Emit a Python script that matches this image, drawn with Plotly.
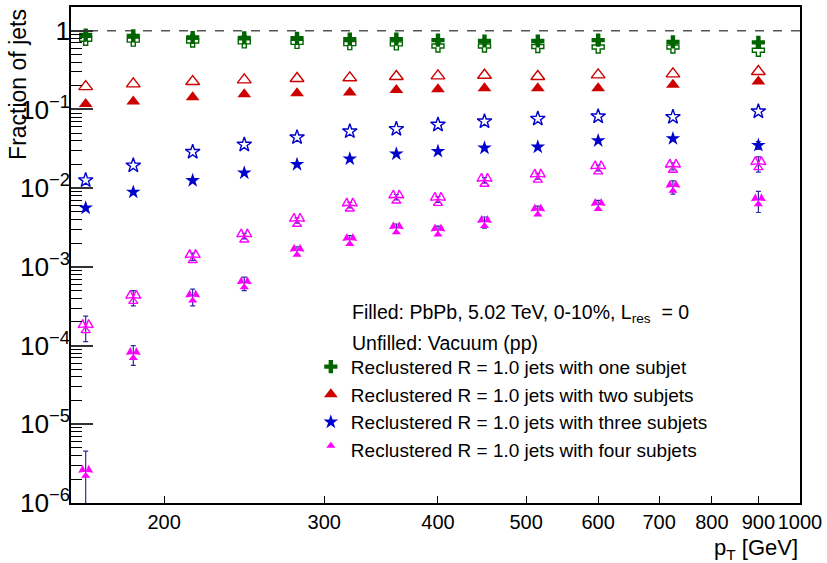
import plotly.graph_objects as go

# ---------------- data ----------------
pt = [164, 185, 215, 245, 280, 320, 360, 400, 450, 515, 600, 725, 900]

one_pbpb = [0.88, 0.86, 0.82, 0.81, 0.80, 0.78, 0.78, 0.76, 0.74, 0.74, 0.76, 0.72, 0.71]
one_pp = [0.78, 0.76, 0.74, 0.72, 0.71, 0.685, 0.68, 0.64, 0.64, 0.63, 0.62, 0.62, 0.565]

two_pbpb = [0.117, 0.126, 0.143, 0.156, 0.161, 0.164, 0.177, 0.181, 0.186, 0.186, 0.186, 0.205, 0.226]
two_pp = [0.195, 0.211, 0.226, 0.237, 0.247, 0.252, 0.262, 0.267, 0.272, 0.262, 0.275, 0.283, 0.303]

three_pbpb = [0.0056, 0.0089, 0.0125, 0.0156, 0.020, 0.0235, 0.0272, 0.0294, 0.0324, 0.0333, 0.0401, 0.0426, 0.035]
three_pp = [0.0126, 0.0194, 0.0289, 0.0357, 0.0442, 0.0527, 0.0564, 0.064, 0.0705, 0.076, 0.0815, 0.080, 0.0944]
three_pbpb_err = [None, None, None, None, None, None, None, None, None, None, None, None, 0.004]

four_pbpb = [2.5e-6, 7.8e-5, 4.2e-4, 6.2e-4, 1.6e-3, 2.2e-3, 3.1e-3, 2.9e-3, 3.7e-3, 5.2e-3, 6.1e-3, 1.04e-2, 7.0e-3]
four_pbpb_err = [2.05e-6, 2.2e-5, 1.0e-4, 1.2e-4, 2.0e-4, 3.0e-4, 4.0e-4, 4.0e-4, 6.0e-4, 7.0e-4, 9.0e-4, 2.0e-3, 2.1e-3]
four_pp = [1.74e-4, 4.1e-4, 1.35e-3, 2.47e-3, 3.9e-3, 6.1e-3, 7.7e-3, 7.2e-3, 1.26e-2, 1.42e-2, 1.81e-2, 1.9e-2, 2.05e-2]
four_pp_err = [6.2e-5, 9.0e-5, 1.5e-4, 2.0e-4, 3.0e-4, 5.0e-4, 6.0e-4, 6.0e-4, 1.0e-3, 1.2e-3, 1.5e-3, 2.0e-3, 4.5e-3]

x_tickvals = [200, 300, 400, 500, 600, 700, 800, 900, 1000]
x_ticktext = ["200", "300", "400", "500", "600", "700", "800", "900", "1000"]

labels = [
    "Reclustered R = 1.0 jets with one subjet",
    "Reclustered R = 1.0 jets with two subjets",
    "Reclustered R = 1.0 jets with three subjets",
    "Reclustered R = 1.0 jets with four subjets",
]
header1 = "Filled: PbPb, 5.02 TeV, 0-10%, L<sub>res</sub>  = 0"
header2 = "Unfilled: Vacuum (pp)"

# ---------------- style ----------------
GREEN = "#006400"
RED = "#cc0000"
BLUE = "#0000cc"
MAGENTA = "#ff00ff"
ERRC = "#2b2ba0"
FONT = "Liberation Sans, Arial, sans-serif"

fig = go.Figure()


def err_dict(err):
    if err is None:
        return None
    return dict(type="data", array=err, visible=True, color=ERRC, thickness=1.2, width=2.5)


def add(x, y, color, symbol, size, name=None, showlegend=False, err=None,
        open_=False, angle=0, standoff=0, group=None):
    fig.add_trace(go.Scatter(
        x=x, y=y, mode="markers", name=name if name else "",
        showlegend=showlegend, legendgroup=group,
        error_y=err_dict(err),
        marker=dict(symbol=symbol, size=size, color=color, angle=angle,
                    standoff=standoff,
                    line=dict(width=1.4 if open_ else 0, color=color)),
        hoverinfo="x+y",
    ))


# pp (open) first, then PbPb (filled) on top
add(pt, one_pp, GREEN, "cross-open", 10, open_=True, group="g1")
add(pt, two_pp, RED, "triangle-up-open", 12, open_=True, group="g2")
add(pt, three_pp, BLUE, "star-open", 11, open_=True, group="g3")
for k, ang in enumerate([0, 120, 240]):
    add(pt, four_pp, MAGENTA, "triangle-up-open", 8, open_=True,
        err=four_pp_err if k == 0 else None, angle=ang, standoff=4, group="g4")

add(pt, one_pbpb, GREEN, "cross", 11, name=labels[0], showlegend=True, group="g1")
add(pt, two_pbpb, RED, "triangle-up", 12, name=labels[1], showlegend=True, group="g2")
add(pt, three_pbpb, BLUE, "star", 11, name=labels[2], showlegend=True,
    err=three_pbpb_err, group="g3")
for k, ang in enumerate([0, 120, 240]):
    add(pt, four_pbpb, MAGENTA, "triangle-up", 8, name=labels[3],
        showlegend=(k == 0), err=four_pbpb_err if k == 0 else None,
        angle=ang, standoff=4, group="g4")

fig.add_shape(type="line", xref="paper", x0=0, x1=1, yref="y", y0=1, y1=1,
              line=dict(color="#555555", width=1.5, dash="dash"), layer="below")

fig.update_xaxes(
    type="log", range=[2.1987, 3.0],
    tickmode="array", tickvals=x_tickvals, ticktext=x_ticktext, tickangle=0,
    ticks="inside", ticklen=7, tickwidth=1, tickcolor="black",
    showline=True, linecolor="black", linewidth=1.5, mirror=True,
    showgrid=False, zeroline=False,
    tickfont=dict(family=FONT, size=20, color="black"),
)
fig.update_yaxes(
    type="log", range=[-6, 0.301], dtick=1, exponentformat="power",
    ticks="inside", ticklen=22, tickwidth=1.5, tickcolor="#333333",
    minor=dict(ticks="inside", ticklen=11, tickwidth=1, tickcolor="black", showgrid=False),
    showline=True, linecolor="black", linewidth=1.5, mirror=True,
    showgrid=False, zeroline=False, ticklabelstandoff=-5,
    tickfont=dict(family=FONT, size=21, color="black"),
)

fig.add_annotation(text="Fraction of jets", textangle=-90, xref="paper", yref="paper",
                   x=-0.0735, y=1.0, xanchor="center", yanchor="top", showarrow=False,
                   font=dict(family=FONT, size=23, color="black"))
fig.add_annotation(text="p<sub>T</sub> [GeV]", xref="paper", yref="paper",
                   x=1.0, y=-0.092, xanchor="right", yanchor="middle", showarrow=False,
                   font=dict(family=FONT, size=22, color="black"))
fig.add_annotation(text=header1, xref="paper", yref="paper", x=0.383, y=0.3815,
                   xanchor="left", yanchor="middle", showarrow=False,
                   font=dict(family=FONT, size=19.5, color="black"))
fig.add_annotation(text=header2, xref="paper", yref="paper", x=0.383, y=0.323,
                   xanchor="left", yanchor="middle", showarrow=False,
                   font=dict(family=FONT, size=19.5, color="black"))

fig.update_layout(
    width=827, height=563,
    margin=dict(l=71, r=25, t=5, b=60),
    paper_bgcolor="white", plot_bgcolor="white",
    font=dict(family=FONT, size=19, color="black"),
    legend=dict(x=0.329, y=0.313, xanchor="left", yanchor="top",
                bgcolor="rgba(0,0,0,0)", borderwidth=0,
                font=dict(family=FONT, size=19, color="black"),
                tracegroupgap=0, itemsizing="trace"),
    showlegend=True,
)

fig.write_html("out.html")
